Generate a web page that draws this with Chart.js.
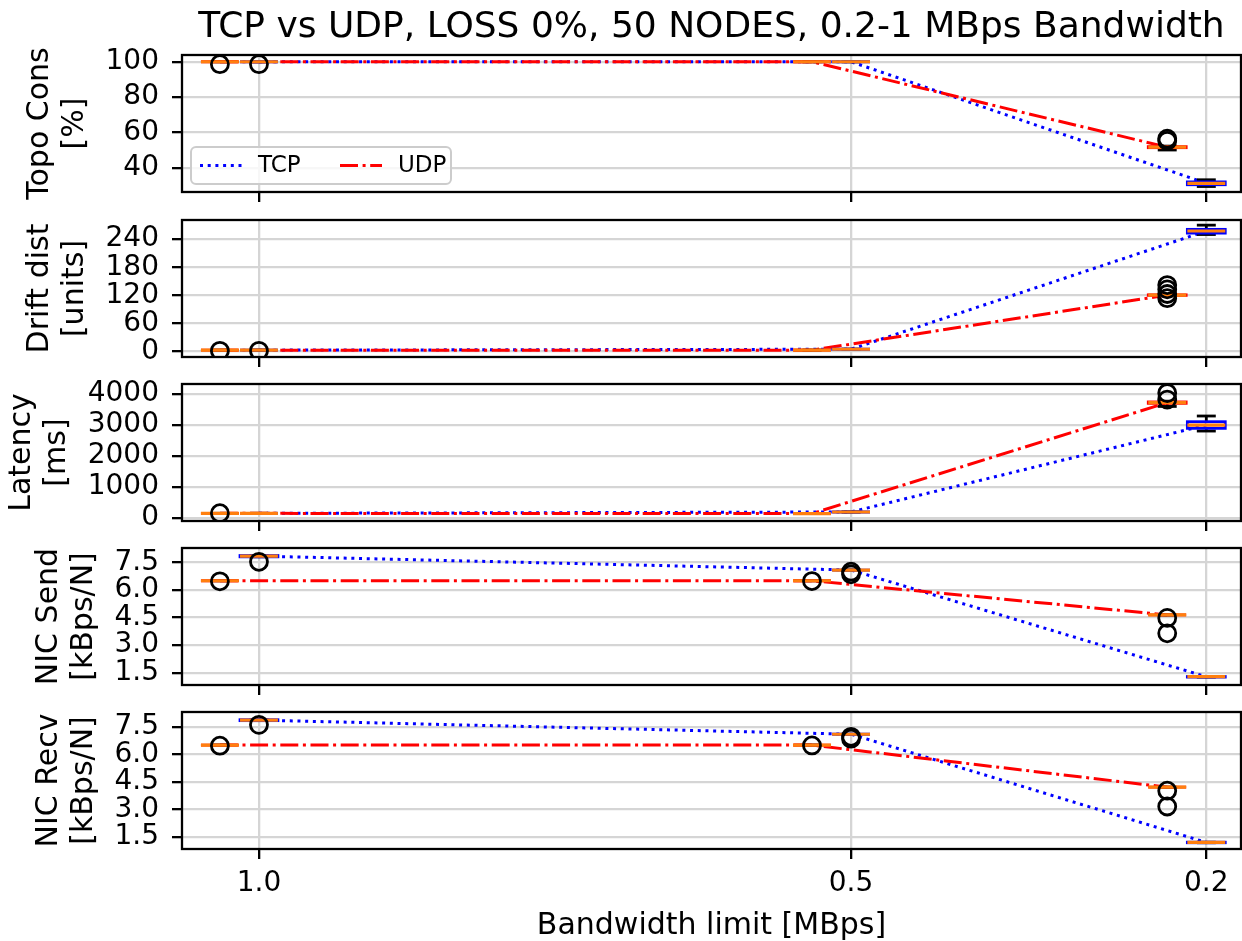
<!DOCTYPE html>
<html>
<head>
<meta charset="utf-8">
<script src="https://cdn.jsdelivr.net/npm/chart.js@4.4.0/dist/chart.umd.min.js"></script>
<style>
  html, body { margin: 0; padding: 0; background: #fff; overflow: hidden; }
  #wrap { position: relative; width: 1242px; height: 941px; overflow: hidden; }
  #wrap canvas { position: absolute; left: 0; }
</style>
</head>
<body>
<div id="wrap"></div>
<script>
// bandwidth limits (MBps) on the shared x axis
const bandwidth = [1.0, 0.5, 0.2];

// box stats per bandwidth: [low whisker, q1, median, q3, high whisker]
const topoTcp = [[100, 100, 100, 100, 100], [100, 100, 100, 100, 100], [29.6, 30.6, 31.4, 32.2, 33.4]];
const topoUdp = [[100, 100, 100, 100, 100], [100, 100, 100, 100, 100], [50.2, 51.5, 51.8, 52.1, 52.4]];
const topoTcpOut = [[98.6], [], []];
const topoUdpOut = [[98.6], [], [55.4, 56.6]];
const topoTicks = [40, 60, 80, 100];

const driftTcp = [[3, 3, 3, 3, 3], [5, 5, 5, 5, 5], [250, 253, 257.5, 261, 270]];
const driftUdp = [[3, 3, 3, 3, 3], [3, 3, 3, 3, 3], [119, 120, 120.6, 121.2, 122]];
const driftTcpOut = [[1.5], [], []];
const driftUdpOut = [[1.5], [], [142, 133, 123, 114]];
const driftTicks = [0, 60, 120, 180, 240];

const latTcp = [[150, 150, 150, 150, 150], [194, 194, 194, 194, 194], [2806, 2893, 3000, 3107, 3291]];
const latUdp = [[150, 150, 150, 150, 150], [142, 142, 142, 142, 142], [3600, 3700, 3722, 3745, 3770]];
const latTcpOut = [[], [], []];
const latUdpOut = [[155], [], [4030, 3820]];
const latTicks = [0, 1000, 2000, 3000, 4000];

const sendTcp = [[7.8, 7.8, 7.84, 7.87, 7.87], [7.08, 7.08, 7.08, 7.08, 7.08], [1.26, 1.26, 1.28, 1.29, 1.29]];
const sendUdp = [[6.5, 6.5, 6.5, 6.5, 6.5], [6.5, 6.5, 6.5, 6.5, 6.5], [4.64, 4.64, 4.64, 4.64, 4.64]];
const sendTcpOut = [[7.53], [6.99, 6.85], []];
const sendUdpOut = [[6.47], [6.48], [4.48, 3.64]];
const sendTicks = [1.5, 3.0, 4.5, 6.0, 7.5];

const recvTcp = [[7.83, 7.83, 7.86, 7.88, 7.88], [7.09, 7.09, 7.09, 7.09, 7.09], [1.19, 1.19, 1.21, 1.22, 1.22]];
const recvUdp = [[6.5, 6.5, 6.5, 6.5, 6.5], [6.5, 6.5, 6.5, 6.5, 6.5], [4.21, 4.21, 4.21, 4.21, 4.21]];
const recvTcpOut = [[7.6], [6.95, 6.85], []];
const recvUdpOut = [[6.47], [6.48], [4.02, 3.16]];
const recvTicks = [1.5, 3.0, 4.5, 6.0, 7.5];

Chart.defaults.font.family = "'DejaVu Sans', sans-serif";
Chart.defaults.color = '#000';
Chart.defaults.animation = false;

const X_MIN = 0.1707, X_MAX = 1.065;
const BOX_W = 0.032, UDP_SHIFT = 0.033;
const GRID = '#d5d5d5';
const TCP_COLOR = '#0000ff', UDP_COLOR = '#ff0000', MEDIAN = '#ff7f0e';
const TCP_DASH = [3, 4.7], UDP_DASH = [18, 4.6, 3, 4.6];

const panels = [
  { label: ['Topo Cons', '[%]'], tcp: topoTcp, udp: topoUdp, tcpOut: topoTcpOut, udpOut: topoUdpOut,
    ticks: topoTicks, dec: 0, min: 26.5, max: 103.8, top: 55, bottom: 192, labelPad: 22.5 },
  { label: ['Drift dist', '[units]'], tcp: driftTcp, udp: driftUdp, tcpOut: driftTcpOut, udpOut: driftUdpOut,
    ticks: driftTicks, dec: 0, min: -11.6, max: 281, top: 220, bottom: 356.5, labelPad: 22.5 },
  { label: ['Latency', '[ms]'], tcp: latTcp, udp: latUdp, tcpOut: latTcpOut, udpOut: latUdpOut,
    ticks: latTicks, dec: 0, min: -97, max: 4324, top: 384, bottom: 520.5, labelPad: 4.5 },
  { label: ['NIC Send', '[kBps/N]'], tcp: sendTcp, udp: sendUdp, tcpOut: sendTcpOut, udpOut: sendUdpOut,
    ticks: sendTicks, dec: 1, min: 0.83, max: 8.28, top: 548, bottom: 685, labelPad: 31.5 },
  { label: ['NIC Recv', '[kBps/N]'], tcp: recvTcp, udp: recvUdp, tcpOut: recvTcpOut, udpOut: recvUdpOut,
    ticks: recvTicks, dec: 1, min: 0.85, max: 8.3, top: 712, bottom: 849, labelPad: 31.5 }
];

const medianLine = (stats, shift) => stats.map((s, i) => ({ x: bandwidth[i] + shift, y: s[2] }));
const outliers = (out, shift) => out.flatMap((vals, i) => vals.map(v => ({ x: bandwidth[i] + shift, y: v })));

// whiskers, boxes and medians, drawn right after the UDP line so fliers land on top
function boxPlugin(p) {
  const series = [
    { stats: p.tcp, shift: 0, color: TCP_COLOR },
    { stats: p.udp, shift: UDP_SHIFT, color: UDP_COLOR }
  ];
  return {
    id: 'boxes',
    afterDatasetDraw(chart, args) {
      if (!chart.data.datasets[args.index].boxesAfter) return;
      const { ctx, chartArea: a, scales: { x, y } } = chart;
      const seg = (x1, y1, x2, y2) => { ctx.beginPath(); ctx.moveTo(x1, y1); ctx.lineTo(x2, y2); ctx.stroke(); };
      ctx.save();
      ctx.beginPath();
      ctx.rect(a.left, a.top, a.right - a.left, a.bottom - a.top);
      ctx.clip();
      ctx.lineCap = 'butt';
      series.forEach(s => {
        s.stats.forEach((st, i) => {
          const xv = bandwidth[i] + s.shift;
          const cx = x.getPixelForValue(xv);
          const hw = Math.abs(x.getPixelForValue(xv + BOX_W / 2) - cx);
          const [lo, q1, med, q3, hi] = st.map(v => y.getPixelForValue(v));
          ctx.lineWidth = 2.8;
          ctx.strokeStyle = '#000';
          seg(cx, q1, cx, lo);
          seg(cx, q3, cx, hi);
          seg(cx - hw / 2, lo, cx + hw / 2, lo);
          seg(cx - hw / 2, hi, cx + hw / 2, hi);
          ctx.strokeStyle = s.color;
          ctx.strokeRect(cx - hw, q3, 2 * hw, q1 - q3);
          ctx.strokeStyle = MEDIAN;
          ctx.lineWidth = 3.2;
          seg(cx - hw, med, cx + hw, med);
        });
      });
      ctx.restore();
    }
  };
}

// full frame round the plot area
const framePlugin = {
  id: 'frame',
  afterDatasetsDraw(chart) {
    const { ctx, chartArea: a } = chart;
    ctx.save();
    ctx.strokeStyle = '#000';
    ctx.lineWidth = 2.3;
    ctx.strokeRect(a.left, a.top, a.right - a.left, a.bottom - a.top);
    ctx.restore();
  }
};

// legend box in the lower left of the first panel
const legendPlugin = {
  id: 'innerLegend',
  afterDraw(chart) {
    const { ctx, chartArea: a } = chart;
    const x0 = a.left + 9, y0 = a.bottom - 45, w = 260, h = 37, r = 5;
    ctx.save();
    ctx.beginPath();
    ctx.roundRect(x0, y0, w, h, r);
    ctx.fillStyle = 'rgba(255,255,255,0.8)';
    ctx.fill();
    ctx.strokeStyle = '#cccccc';
    ctx.lineWidth = 2;
    ctx.stroke();
    const cy = y0 + h / 2;
    const entries = chart.data.datasets.filter(d => d.inLegend);
    entries.forEach((d, k) => {
      const sx = x0 + 9 + k * 140;
      ctx.strokeStyle = d.borderColor;
      ctx.lineWidth = 3;
      ctx.setLineDash(d.borderDash);
      ctx.beginPath();
      ctx.moveTo(sx, cy);
      ctx.lineTo(sx + 42, cy);
      ctx.stroke();
      ctx.setLineDash([]);
      ctx.fillStyle = '#000';
      ctx.font = "23px 'DejaVu Sans'";
      ctx.textBaseline = 'middle';
      ctx.fillText(d.label, sx + 58, cy + 1);
    });
    ctx.restore();
  }
};

const wrap = document.getElementById('wrap');

panels.forEach((p, idx) => {
  const first = idx === 0, last = idx === panels.length - 1;
  const padTop = first ? 0 : 40;
  const canvasTop = first ? 0 : p.top - padTop;
  const padBottom = last ? 14 : 25;
  const canvasBottom = last ? 960 : p.bottom + 10 + padBottom;

  const canvas = document.createElement('canvas');
  canvas.width = 1242;
  canvas.height = Math.round(canvasBottom - canvasTop);
  canvas.style.top = canvasTop + 'px';
  wrap.appendChild(canvas);

  const plugins = [boxPlugin(p), framePlugin];
  if (first) plugins.push(legendPlugin);

  new Chart(canvas, {
    type: 'scatter',
    data: {
      datasets: [
        { label: 'TCP', data: medianLine(p.tcp, 0), showLine: true, borderColor: TCP_COLOR,
          borderDash: TCP_DASH, borderWidth: 3, pointRadius: 0, order: 3, inLegend: true },
        { label: 'UDP', data: medianLine(p.udp, UDP_SHIFT), showLine: true, borderColor: UDP_COLOR,
          borderDash: UDP_DASH, borderWidth: 3, pointRadius: 0, order: 2, inLegend: true, boxesAfter: true },
        { label: 'TCP fliers', data: outliers(p.tcpOut, 0), pointStyle: 'circle', pointRadius: 8.5,
          borderColor: '#000', backgroundColor: 'rgba(0,0,0,0)', borderWidth: 2.8, order: 1 },
        { label: 'UDP fliers', data: outliers(p.udpOut, UDP_SHIFT), pointStyle: 'circle', pointRadius: 8.5,
          borderColor: '#000', backgroundColor: 'rgba(0,0,0,0)', borderWidth: 2.8, order: 1 }
      ]
    },
    options: {
      responsive: false,
      devicePixelRatio: 1,
      layout: { autoPadding: false, padding: { top: padTop, bottom: padBottom, left: 0, right: 1 } },
      plugins: {
        legend: { display: false },
        tooltip: { enabled: false },
        title: {
          display: first,
          text: 'TCP vs UDP, LOSS 0%, 50 NODES, 0.2-1 MBps Bandwidth',
          font: { size: 36, weight: 'normal' },
          color: '#000',
          fullSize: false,
          padding: { top: 5.8, bottom: 6 }
        }
      },
      scales: {
        x: {
          type: 'linear',
          reverse: true,
          min: X_MIN,
          max: X_MAX,
          afterBuildTicks: axis => { axis.ticks = bandwidth.map(v => ({ value: v })); },
          ticks: { display: last, callback: v => v.toFixed(1), font: { size: 28 }, color: '#000',
                   padding: 7.7, maxRotation: 0, autoSkip: false },
          grid: { color: GRID, lineWidth: 2.3, tickColor: '#000', tickWidth: 2.3, tickLength: 10 },
          border: { display: false },
          title: { display: last, text: 'Bandwidth limit [MBps]', font: { size: 30 }, color: '#000',
                   padding: { top: 0, bottom: 2 } }
        },
        y: {
          min: p.min,
          max: p.max,
          afterBuildTicks: axis => { axis.ticks = p.ticks.map(v => ({ value: v })); },
          afterFit: axis => { axis.width = 182; },
          ticks: { callback: v => v.toFixed(p.dec), font: { size: 28 }, color: '#000', padding: 13, autoSkip: false },
          grid: { color: GRID, lineWidth: 2.3, tickColor: '#000', tickWidth: 2.3, tickLength: 10 },
          border: { display: false },
          title: { display: true, text: p.label, font: { size: 30, lineHeight: 1.17 }, color: '#000',
                   padding: { top: p.labelPad, bottom: 0 } }
        }
      }
    },
    plugins
  });
});
</script>
</body>
</html>
